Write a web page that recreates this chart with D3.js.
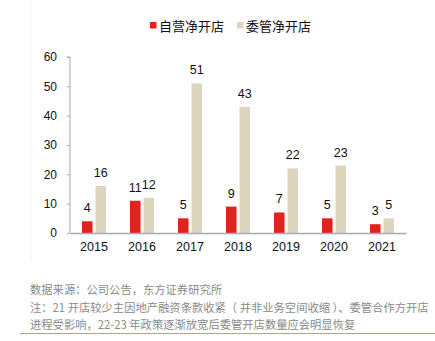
<!DOCTYPE html>
<html><head><meta charset="utf-8">
<script src="https://cdn.jsdelivr.net/npm/d3@7"></script>
<style>body{margin:0;background:#fff}svg{display:block;font-family:"Liberation Sans",Arial,"Noto Sans CJK SC",sans-serif}</style>
</head><body><svg id="c" width="435" height="341"></svg>
<script>
const years = ["2015","2016","2017","2018","2019","2020","2021"];
const selfOpen = [4,11,5,9,7,5,3];
const mgmtOpen = [16,12,51,43,22,23,5];
const seriesNames = ["自营净开店","委管净开店"];
const colors = ["#e3221c","#ddd5bd"];
const yTicks = [0,10,20,30,40,50,60];
const notes = ["数据来源：公司公告，东方证券研究所",
"注：21 开店较少主因地产融资条款收紧（ 并非业务空间收缩 ）、委管合作方开店",
"进程受影响，22-23 年政策逐渐放宽后委管开店数量应会明显恢复"];

const svg = d3.select("#c");
const x = d3.scaleBand().domain(years).range([70,406]).paddingInner(0).paddingOuter(0);
const y = d3.scaleLinear().domain([0,60]).range([233,57]);

svg.append("line").attr("x1",31).attr("x2",31).attr("y1",0).attr("y2",262).attr("stroke","#f3f3f3");

const yAxis = d3.axisLeft(y).tickValues(yTicks).tickSize(3).tickPadding(10);
const gy = svg.append("g").attr("transform","translate(70,0)").call(yAxis);
gy.select(".domain").attr("stroke","#aaa").attr("d","M-3,57H0V233");
gy.selectAll(".tick line").attr("stroke","#aaa");
gy.selectAll("text").attr("font-size",12).attr("fill","#111");

const data = years.map((yr,i)=>({yr, v:[selfOpen[i],mgmtOpen[i]]}));
const bw = 10.5;
const offs = [-12, 1.5];
data.forEach(d=>{
  d.v.forEach((v,k)=>{
    const cx = x(d.yr)+x.bandwidth()/2;
    svg.append("rect").attr("x",cx+offs[k]).attr("y",y(v)).attr("width",bw).attr("height",y(0)-y(v)).attr("fill",colors[k]);
    svg.append("text").attr("x",cx+offs[k]+bw/2).attr("y",y(v)-9).attr("text-anchor","middle").attr("font-size",12.5).attr("fill","#111").text(v);
  });
});

const xAxis = d3.axisBottom(x).tickSize(0).tickPadding(9);
const gx = svg.append("g").attr("transform","translate(0,233)").call(xAxis);
gx.select(".domain").attr("stroke","#aaa").attr("stroke-width",1.3);
gx.selectAll("text").attr("font-size",12.5).attr("fill","#111");

// legend
const leg = [[150,159],[237,246]];
seriesNames.forEach((n,k)=>{
  svg.append("rect").attr("x",leg[k][0]).attr("y",22).attr("width",6.5).attr("height",6.5).attr("fill",colors[k]);
  svg.append("text").attr("x",leg[k][1]).attr("y",31).attr("font-size",13).attr("fill","#111").attr("font-family","Noto Sans CJK SC").text(n);
});

// notes
const ny=[294,312,329];
notes.forEach((t,i)=>{
  svg.append("text").attr("x",30).attr("y",ny[i]).attr("font-size",11.3).attr("fill","#8a8a8a").attr("font-family","Noto Sans CJK SC").text(t);
});
svg.append("line").attr("x1",20).attr("x2",435).attr("y1",333.5).attr("y2",333.5).attr("stroke","#e88a8a").attr("stroke-width",1);
</script></body></html>
